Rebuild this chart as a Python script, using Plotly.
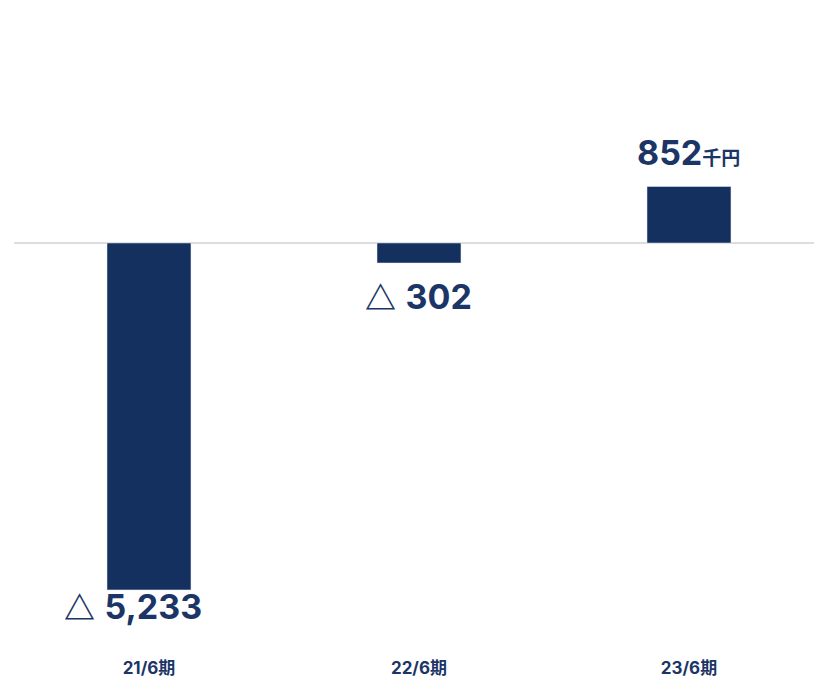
import plotly.graph_objects as go

categories = ["21/6期", "22/6期", "23/6期"]
values = [-5233, -302, 852]
unit = "千円"

NAVY = "#14305e"
TEXT = "#1b3566"
FONT = "Inter, Noto Sans CJK JP, sans-serif"
TRI = ("<span style='font-family:\"Noto Sans CJK JP\";font-weight:900;"
       "font-size:31px'>△</span>")

# label placement tweaks (pixels): (xshift, yshift)
label_shift = {0: (-16, 9), 1: (0, -8), 2: (0, 12)}

fig = go.Figure()
fig.add_trace(go.Bar(
    x=categories, y=values, marker_color=NAVY, width=0.311,
    hoverinfo="skip",
))

annotations = []
for i, (c, v) in enumerate(zip(categories, values)):
    xs, ys = label_shift[i]
    if v < 0:
        txt = f"{TRI} <b>{abs(v):,}</b>"
        annotations.append(dict(x=c, y=v, text=txt, showarrow=False,
                                yanchor="top", yshift=ys, xshift=xs,
                                font=dict(size=34, color=TEXT, family=FONT)))
    else:
        txt = f"<b>{v:,}</b><b><span style='font-size:19px'>{unit}</span></b>"
        annotations.append(dict(x=c, y=v, text=txt, showarrow=False,
                                yanchor="bottom", yshift=ys, xshift=xs,
                                font=dict(size=34, color=TEXT, family=FONT)))

fig.update_layout(
    width=814, height=677,
    margin=dict(l=14, r=0, t=0, b=27),
    plot_bgcolor="white", paper_bgcolor="white",
    showlegend=False,
    annotations=annotations,
    xaxis=dict(
        range=[-0.5, 2.463], showgrid=False, showline=False, zeroline=False,
        ticks="", tickfont=dict(size=17, color=TEXT, family=FONT),
        tickvals=categories, ticktext=[f"<b>{c}</b>" for c in categories],
        ticklabelstandoff=6,
    ),
    yaxis=dict(
        range=[-6139, 3665], showgrid=False, showticklabels=False,
        zeroline=True, zerolinecolor="#dddddd", zerolinewidth=2,
    ),
)

fig.write_html("out.html", config={"displayModeBar": False},
               post_script="document.body.style.margin='0';")
